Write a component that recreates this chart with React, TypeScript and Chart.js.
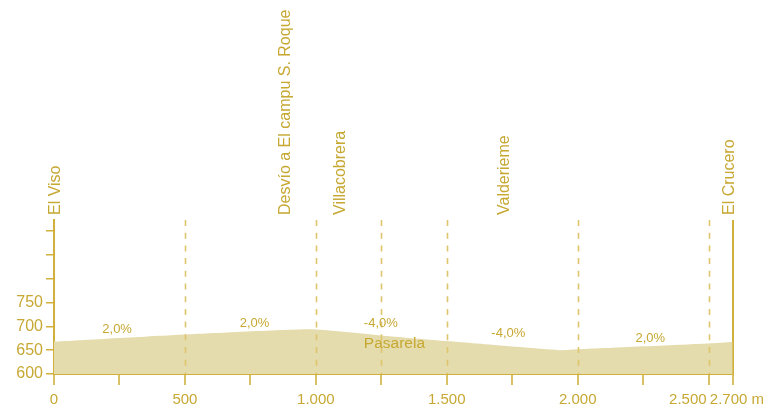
import React, { useEffect, useRef } from "react";
import { Chart, registerables } from "chart.js";

Chart.register(...registerables);

// Elevation profile (distance in m along the drawn axis, elevation in m)
const distances = [0, 500, 980, 1250, 1500, 1930, 2000, 2500, 2592];
const elevations = [668, 683, 694, 681, 669, 650, 652, 664, 667];

// Axis ticks
const X_END = 2592;
const xTickValues = [0, 250, 500, 750, 1000, 1250, 1500, 1750, 2000, 2250, 2500, X_END];
const xTickLabels = ["0", "", "500", "", "1.000", "", "1.500", "", "2.000", "", "2.500          ", "  2.700 m"];
const yTickValues = [600, 650, 700, 750, 800, 850, 900];
const yTickLabels = ["600", "650", "700", "750", "", "", ""];

// Waypoints (rotated labels above the chart)
const waypointNames = ["El Viso", "Desvío a El campu S. Roque", "Villacobrera", "Valderieme", "El Crucero"];
const waypointDist = [5, 883, 1093, 1720, 2580];

// Dashed marker lines
const markerDist = [500, 1000, 1250, 1500, 2000, 2500];

// Grade labels
const gradeLabels = ["2,0%", "2,0%", "-4,0%", "-4,0%", "2,0%"];
const gradeDist = [241, 766, 1248, 1735, 2277];
const gradeElev = [694, 706, 706, 685, 675];

// Notes
const noteLabels = ["Pasarela"];
const noteDist = [1300];
const noteElev = [663];

const GOLD = "#D0B13E";
const TEXT = "#C6A833";
const FILL = "#E5DCAD";
const DASH = "#DCC56C";
const FONT = "'Liberation Sans', Arial, Helvetica, sans-serif";

const overlayPlugin = {
  id: "overlay",
  afterDatasetsDraw(chart: any) {
    const { ctx, chartArea, scales } = chart;
    const xs = scales.x;
    const ys = scales.y;
    ctx.save();
    // dashed markers
    ctx.strokeStyle = DASH;
    ctx.lineWidth = 1.6;
    ctx.setLineDash([6, 6.7]);
    markerDist.forEach((d) => {
      const x = Math.round(xs.getPixelForValue(d)) + 0.5;
      ctx.beginPath();
      ctx.moveTo(x, chartArea.top);
      ctx.lineTo(x, chartArea.bottom);
      ctx.stroke();
    });
    ctx.setLineDash([]);

    // waypoint labels
    ctx.fillStyle = TEXT;
    ctx.font = `16px ${FONT}`;
    ctx.textAlign = "left";
    ctx.textBaseline = "middle";
    waypointNames.forEach((name, i) => {
      const x = xs.getPixelForValue(waypointDist[i]);
      ctx.save();
      ctx.translate(x, chartArea.top - 5);
      ctx.rotate(-Math.PI / 2);
      ctx.fillText(name, 0, 0);
      ctx.restore();
    });

    // grade labels
    ctx.font = `13px ${FONT}`;
    ctx.textAlign = "center";
    gradeLabels.forEach((g, i) => {
      ctx.fillText(g, xs.getPixelForValue(gradeDist[i]), ys.getPixelForValue(gradeElev[i]));
    });

    // notes
    ctx.font = `15.5px ${FONT}`;
    noteLabels.forEach((n, i) => {
      ctx.fillText(n, xs.getPixelForValue(noteDist[i]), ys.getPixelForValue(noteElev[i]));
    });
    ctx.restore();
  },
};

export default function App() {
  const ref = useRef<HTMLCanvasElement | null>(null);

  useEffect(() => {
    document.body.style.margin = "0";
    if (!ref.current) return;
    const chart = new Chart(ref.current, {
      type: "line",
      data: {
        datasets: [
          {
            data: distances.map((d, i) => ({ x: d, y: elevations[i] })),
            fill: "start",
            backgroundColor: FILL,
            borderWidth: 0,
            borderColor: "rgba(0,0,0,0)",
            pointRadius: 0,
            tension: 0.15,
          },
        ],
      },
      options: {
        responsive: false,
        animation: false,
        devicePixelRatio: 1,
        layout: { padding: { top: 220, right: 37, left: 0, bottom: 0 } },
        plugins: { legend: { display: false }, tooltip: { enabled: false } },
        scales: {
          x: {
            type: "linear",
            min: 0,
            max: X_END,
            afterBuildTicks: (scale: any) => {
              scale.ticks = xTickValues.map((v) => ({ value: v }));
            },
            afterFit: (scale: any) => {
              scale.height = 34;
            },
            ticks: {
              autoSkip: false,
              maxRotation: 0,
              minRotation: 0,
              padding: 6,
              color: TEXT,
              font: { family: FONT, size: 15 },
              callback: (_v: any, i: number) => xTickLabels[i],
            },
            grid: {
              drawOnChartArea: true,
              color: (c: any) => (c.tick && c.tick.value === X_END ? GOLD : "rgba(0,0,0,0)"),
              lineWidth: 2,
              tickColor: GOLD,
              tickLength: 11,
              tickWidth: 1.6,
            },
            border: { display: true, color: GOLD, width: 2 },
          },
          y: {
            type: "linear",
            min: 600,
            max: 923,
            afterBuildTicks: (scale: any) => {
              scale.ticks = yTickValues.map((v) => ({ value: v }));
            },
            afterFit: (scale: any) => {
              scale.width = 54;
            },
            ticks: {
              padding: 3,
              color: TEXT,
              font: { family: FONT, size: 16 },
              callback: (_v: any, i: number) => yTickLabels[i],
            },
            grid: {
              drawOnChartArea: false,
              color: GOLD,
              tickColor: GOLD,
              tickLength: 8,
              lineWidth: 1.5,
            },
            border: { display: true, color: GOLD, width: 2 },
          },
        },
      },
      plugins: [overlayPlugin],
    } as any);
    return () => chart.destroy();
  }, []);

  return (
    <div style={{ width: 770, height: 408 }}>
      <canvas ref={ref} width={770} height={408} style={{ display: "block" }} />
    </div>
  );
}
